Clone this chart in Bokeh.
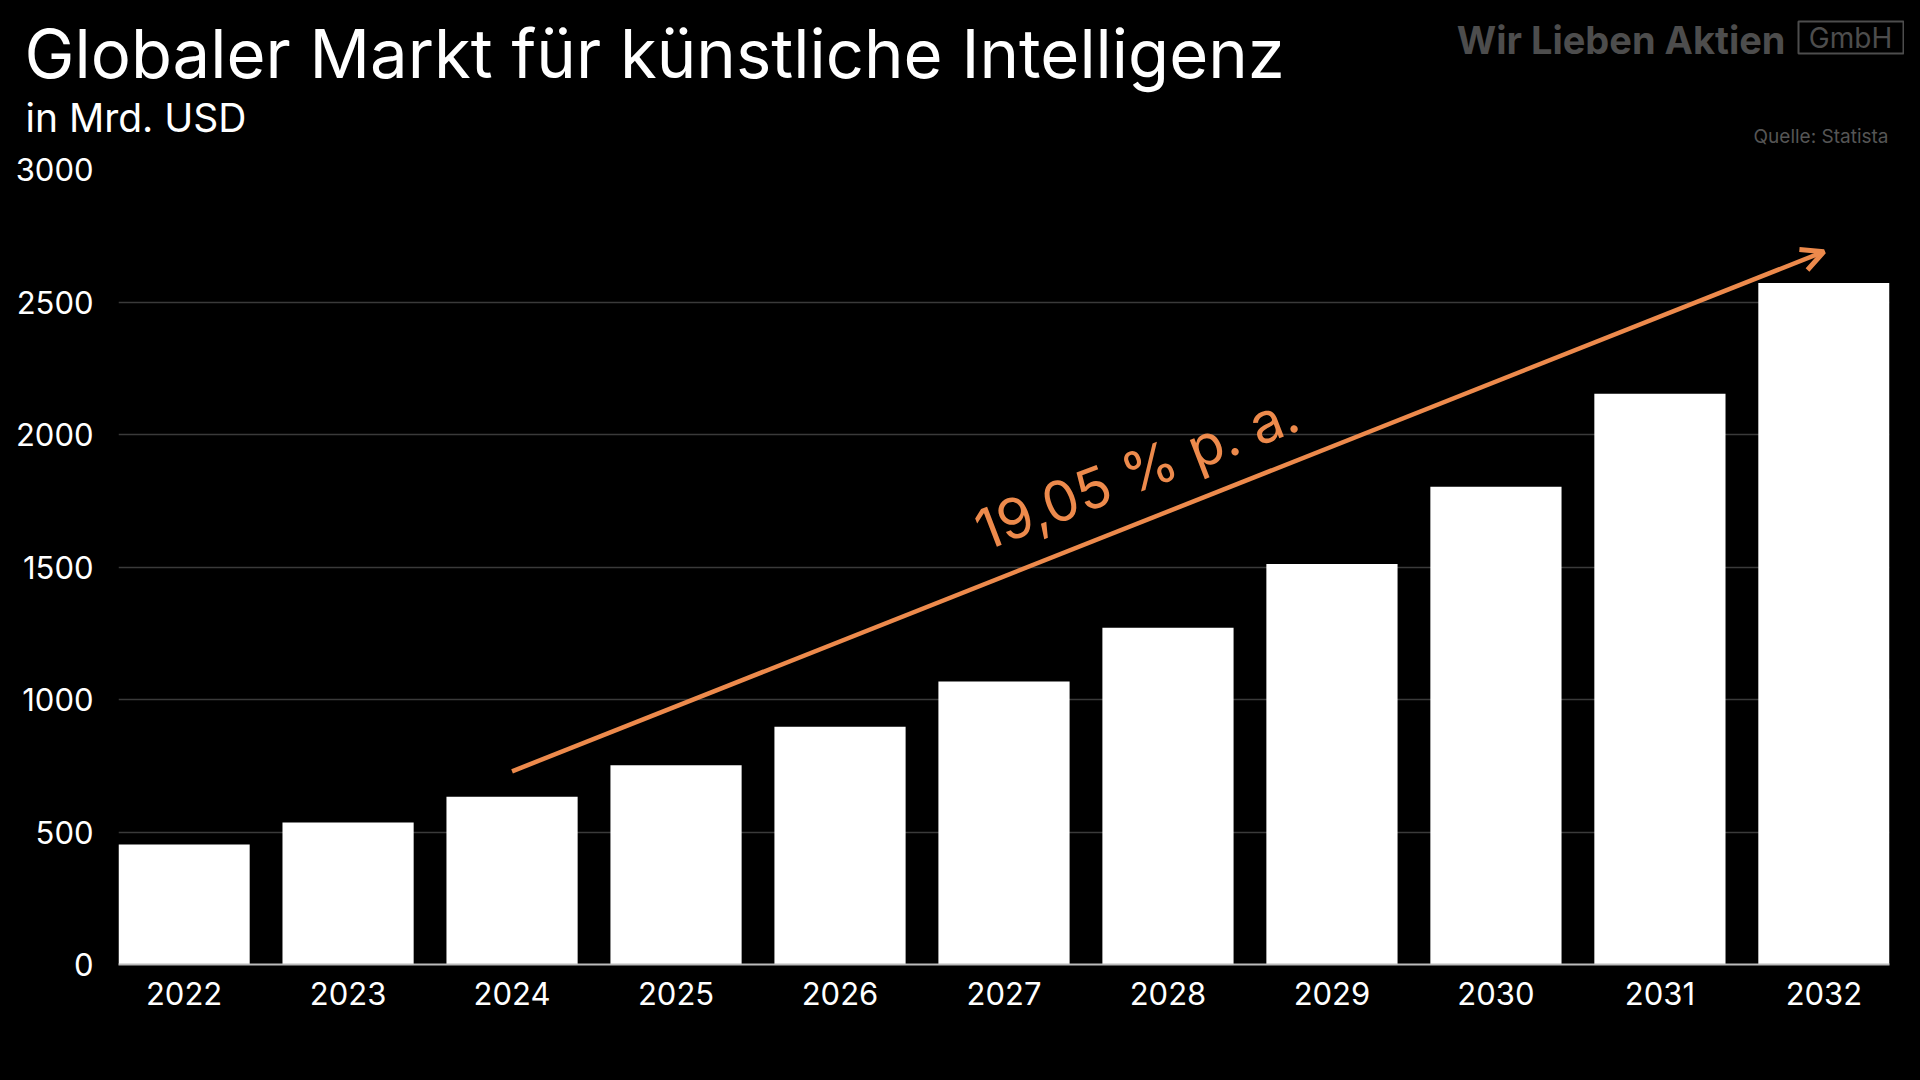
from bokeh.plotting import figure
from bokeh.models import (ColumnDataSource, FixedTicker, Label, Arrow, OpenHead,
                          Range1d)
from bokeh.core.properties import value
from bokeh.embed import file_html
from bokeh.resources import INLINE

# ---- data ----
years = [2022, 2023, 2024, 2025, 2026, 2027, 2028, 2029, 2030, 2031, 2032]
market = [453, 536, 633, 752, 897, 1068, 1271, 1511, 1803, 2154, 2572]
y_ticks = [0, 500, 1000, 1500, 2000, 2500, 3000]
title_text = "Globaler Markt für künstliche Intelligenz"
subtitle_text = "in Mrd. USD"
source_text = "Quelle: Statista"
logo_text = "Wir Lieben Aktien"
logo_box_text = "GmbH"
growth_text = "19,05 % p. a."
arrow_from = (2024, 729)
arrow_to = (2032, 2690)
growth_label_pos = (2027.81, 1860)

FONT = "Inter"
ORANGE = "#ED8A4C"
LOGO = "#4d4d4d"
W, H = 1904, 1064
HEAD_H = 150
FL, FB = 118, 964   # frame left / bottom in page pixels

# ---- header (title, subtitle, logo, source): pixel coordinates ----
hdr = figure(width=W, height=HEAD_H, output_backend="svg", toolbar_location=None,
             x_range=Range1d(0, W), y_range=Range1d(HEAD_H, 0),
             x_axis_location=None, y_axis_location=None,
             min_border=0, min_border_left=0, min_border_right=0,
             min_border_top=0, min_border_bottom=0,
             background_fill_color="black", border_fill_color=None,
             outline_line_color=None)
hdr.grid.grid_line_color = None

def htext(x, y, text, size, color, style="normal", align="left"):
    hdr.text(x=[x], y=[y], text=[text], text_font=value(FONT),
             text_font_size=value(f"{size}px"), text_color=color,
             text_font_style=style, text_align=align,
             text_baseline="alphabetic")

htext(24, 53, title_text, 67, "white")
htext(25, 117, subtitle_text, 39, "white")
htext(1888, 136, source_text, 19, "#555555", align="right")
htext(1785, 39, logo_text, 38, LOGO, style="bold", align="right")
htext(1850, 37, logo_box_text, 28, LOGO, align="center")
hdr.quad(left=[1798], right=[1903], top=[21], bottom=[53],
         fill_color=None, line_color=LOGO, line_width=2)

# ---- main chart ----
src = ColumnDataSource(dict(x=years, top=market))

p = figure(width=W, height=H - HEAD_H, output_backend="svg", toolbar_location=None,
           x_range=Range1d(years[0] - 0.4, years[-1] + 0.4),
           y_range=Range1d(0, 3000),
           min_border_left=FL, min_border_right=W - 1889,
           min_border_top=169 - HEAD_H, min_border_bottom=H - FB,
           background_fill_color="black", border_fill_color=None,
           outline_line_color=None)

p.vbar(x="x", top="top", width=0.8, bottom=0, source=src,
       fill_color="white", line_color=None)

p.xaxis.ticker = FixedTicker(ticks=years)
p.yaxis.ticker = FixedTicker(ticks=y_ticks)
for ax in (p.xaxis[0], p.yaxis[0]):
    ax.major_label_text_font = FONT
    ax.major_label_text_font_size = "31px"
    ax.major_label_text_color = "white"
    ax.major_tick_line_color = None
    ax.minor_tick_line_color = None
p.xaxis.axis_line_color = "#bbbbbb"
p.xaxis.axis_line_width = 2
p.xaxis.major_label_standoff = 11
p.yaxis.axis_line_color = None
p.yaxis.major_label_standoff = 19
p.xgrid.grid_line_color = None
p.ygrid.grid_line_color = "#3a3a3a"
p.ygrid.grid_line_width = 1.5

p.add_layout(Arrow(end=OpenHead(size=22, line_color=ORANGE, line_width=5),
                   x_start=arrow_from[0], y_start=arrow_from[1],
                   x_end=arrow_to[0], y_end=arrow_to[1],
                   line_color=ORANGE, line_width=4.5))
p.add_layout(Label(x=growth_label_pos[0], y=growth_label_pos[1], text=growth_text,
                   angle=21.0, angle_units="deg", text_align="center",
                   text_baseline="alphabetic", text_font=FONT,
                   text_font_size="56px", text_color=ORANGE))

html = file_html([hdr, p], INLINE)
html = html.replace("<head>", "<head><style>html,body{background-color:#000;}</style>", 1)
open("out.html", "w").write(html)
